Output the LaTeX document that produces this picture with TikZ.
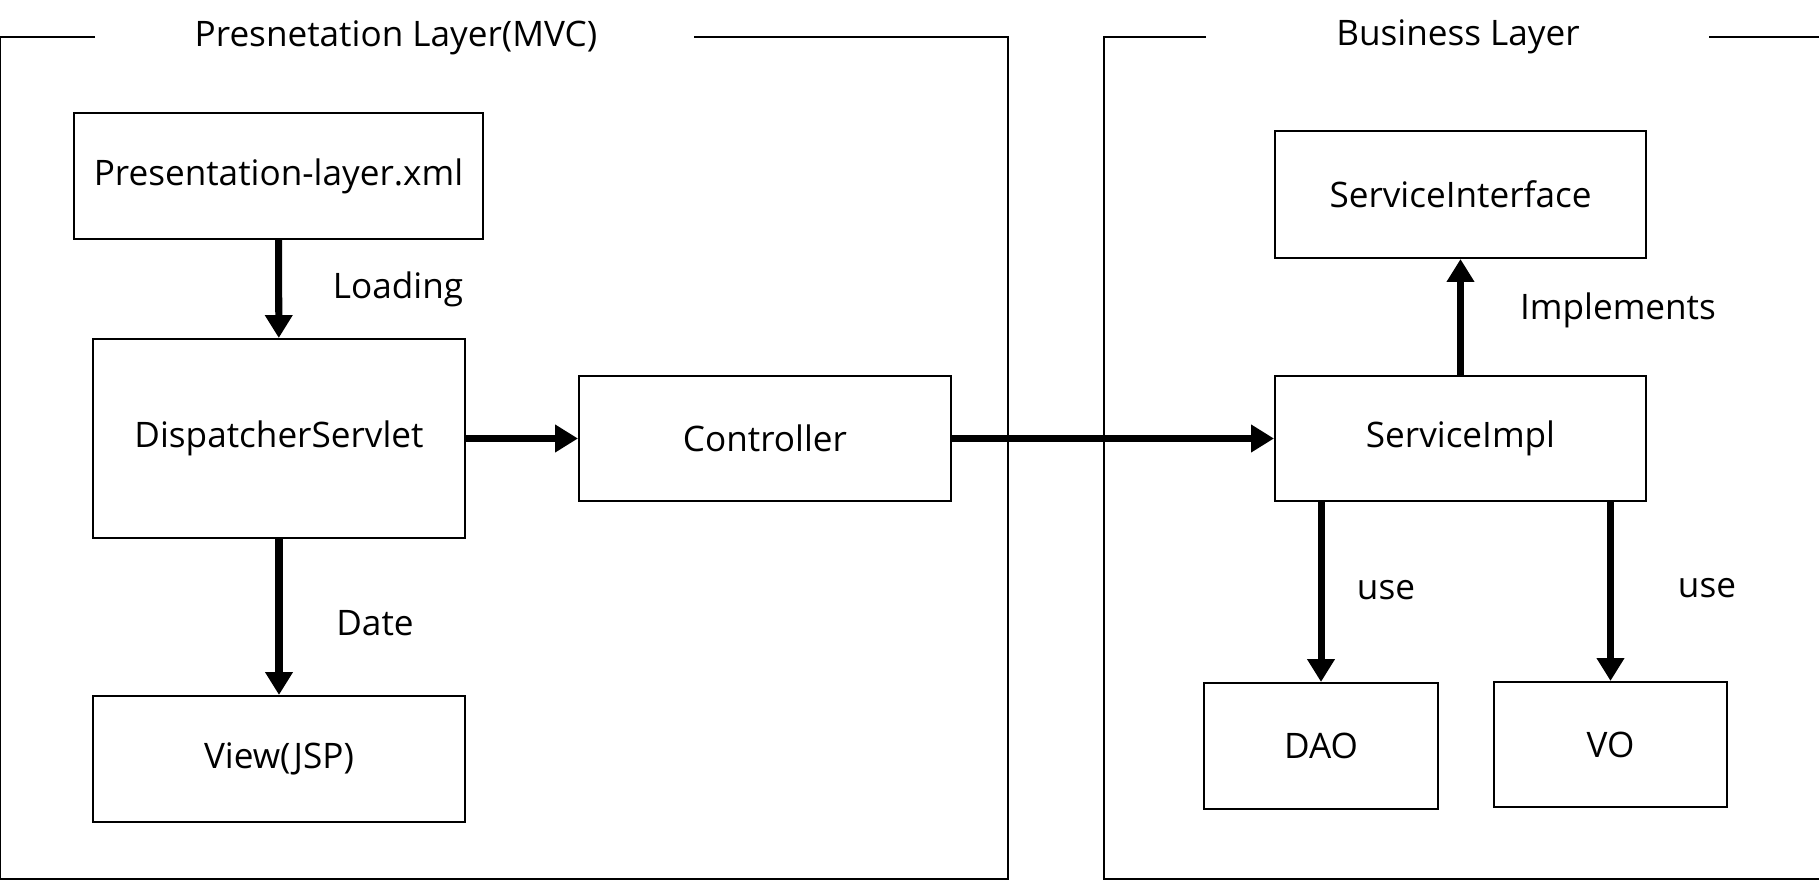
\documentclass[tikz,border=0pt]{standalone}
\usepackage{fontspec}
\setmainfont{Open Sans}
\usetikzlibrary{arrows.meta}

\begin{document}
\begin{tikzpicture} [x=0.02cm, y=-0.02cm]
\tikzstyle{box}=[draw, line width=1.2pt, inner sep=0pt, font=\fontsize{20}{24}\selectfont];
\tikzstyle{lbl}=[inner sep=0pt, font=\fontsize{20}{24}\selectfont];
\tikzstyle{arr}=[line width=4pt, -{Triangle[length=13pt, width=15pt]}];
\useasboundingbox (0,0) rectangle (1819,881);
% layer frames
\draw [line width=1.2pt] (95,37) -- (0,37) -- (0,879) -- (1008,879) -- (1008,37) -- (694,37);
\draw [line width=1.2pt] (1206,37) -- (1104,37) -- (1104,879) -- (1819,879)
(1709,37) -- (1819,37);
\node [lbl] (t1) at (396,38) {Presnetation Layer(MVC)};
\node [lbl] (t2) at (1458,37) {Business Layer};
% presentation layer
\node [box, minimum width=8.18cm, minimum height=2.52cm] (xml) at (278.5,176) {Presentation-layer.xml};
\node [box, minimum width=7.44cm, minimum height=3.98cm] (ds) at (279,438.5) {DispatcherServlet};
\node [box, minimum width=7.44cm, minimum height=2.52cm] (view) at (279,759) {View(JSP)};
\node [box, minimum width=7.44cm, minimum height=2.5cm] (ctrl) at (765,438.5) {Controller};
% business layer
\node [box, minimum width=7.42cm, minimum height=2.54cm] (si) at (1460.5,194.5) {ServiceInterface};
\node [box, minimum width=7.42cm, minimum height=2.5cm] (impl) at (1460.5,438.5) {ServiceImpl};
\node [box, minimum width=4.68cm, minimum height=2.52cm] (dao) at (1321,746) {DAO};
\node [box, minimum width=4.66cm, minimum height=2.5cm] (vo) at (1610.5,744.5) {VO};
\draw [arr] (xml) -- (ds);
\draw [arr] (ds) -- (view);
\draw [arr] (ds) -- (ctrl);
\draw [arr] (ctrl) -- (impl);
\draw [arr] (impl) -- (si);
\draw [arr] (impl.south -| dao) -- (dao);
\draw [arr] (impl.south -| vo) -- (vo);
\node [lbl] (l1) at (398,289) {Loading};
\node [lbl] (l2) at (375,623) {Date};
\node [lbl] (l3) at (1618,310) {Implements};
\node [lbl] (l4) at (1386,590) {use};
\node [lbl] (l5) at (1707,588) {use};
\end{tikzpicture}
\end{document}
